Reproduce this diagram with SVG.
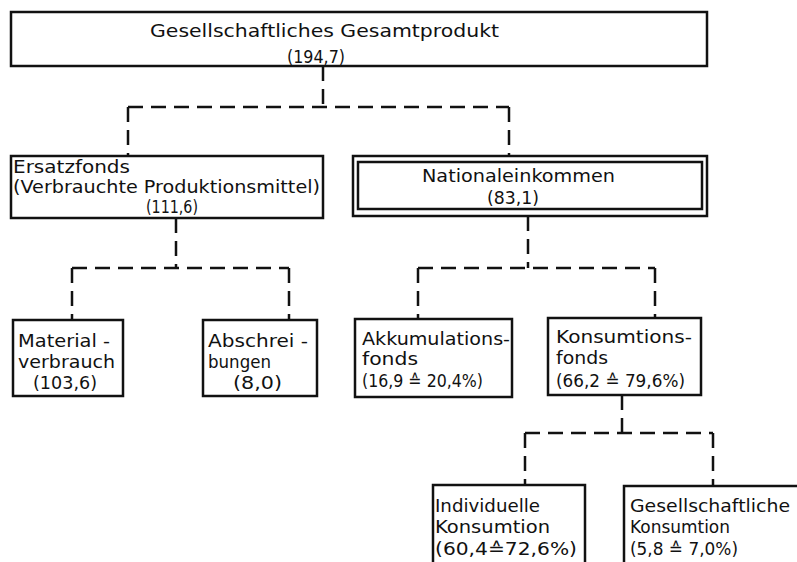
<svg xmlns="http://www.w3.org/2000/svg" width="797" height="562" viewBox="0 0 797 562">
<style>
.box{fill:#fff;stroke:#111;stroke-width:2.5}
.con{fill:none;stroke:#111;stroke-width:2.5;stroke-dasharray:15 8}
text{font-family:"DejaVu Sans","Liberation Sans",sans-serif;font-size:18px;fill:#111}
</style>
<rect width="797" height="562" fill="#fff"/>
<g id="connectors">
<path class="con" d="M323,66 V107"/>
<path class="con" d="M128,107 H509"/>
<path class="con" d="M128,107 V156"/>
<path class="con" d="M509,107 V156"/>
<path class="con" d="M176,218 V268"/>
<path class="con" d="M72,268 H289"/>
<path class="con" d="M72,268 V320"/>
<path class="con" d="M289,268 V320"/>
<path class="con" d="M528,216 V268"/>
<path class="con" d="M418,268 H655"/>
<path class="con" d="M418,268 V319"/>
<path class="con" d="M655,268 V318"/>
<path class="con" d="M622,395 V433"/>
<path class="con" d="M525,433 H713"/>
<path class="con" d="M525,433 V485"/>
<path class="con" d="M713,433 V486"/>
</g>
<g id="gesamtprodukt">
<rect class="box" x="11" y="12" width="696" height="54"/>
<text x="150" y="37" textLength="349" lengthAdjust="spacingAndGlyphs">Gesellschaftliches Gesamtprodukt</text>
<text x="287" y="63" textLength="58" lengthAdjust="spacingAndGlyphs">(194,7)</text>
</g>
<g id="ersatzfonds">
<rect class="box" x="11" y="156" width="312" height="62"/>
<text x="13" y="173" textLength="117" lengthAdjust="spacingAndGlyphs">Ersatzfonds</text>
<text x="13" y="193" textLength="307" lengthAdjust="spacingAndGlyphs">(Verbrauchte Produktionsmittel)</text>
<text x="146" y="213" textLength="52" lengthAdjust="spacingAndGlyphs">(111,6)</text>
</g>
<g id="nationaleinkommen">
<rect class="box" x="353" y="156" width="354" height="60"/>
<rect class="box" x="358" y="162" width="344" height="47" stroke-width="2"/>
<text x="422" y="182" textLength="193" lengthAdjust="spacingAndGlyphs">Nationaleinkommen</text>
<text x="487" y="204" textLength="52" lengthAdjust="spacingAndGlyphs">(83,1)</text>
</g>
<g id="materialverbrauch">
<rect class="box" x="13" y="320" width="110" height="76"/>
<text x="18" y="347" textLength="92" lengthAdjust="spacingAndGlyphs">Material -</text>
<text x="18" y="368" textLength="97" lengthAdjust="spacingAndGlyphs">verbrauch</text>
<text x="33" y="389" textLength="64" lengthAdjust="spacingAndGlyphs">(103,6)</text>
</g>
<g id="abschreibungen">
<rect class="box" x="203" y="320" width="114" height="76"/>
<text x="208" y="347" textLength="100" lengthAdjust="spacingAndGlyphs">Abschrei -</text>
<text x="208" y="368" textLength="63" lengthAdjust="spacingAndGlyphs">bungen</text>
<text x="233" y="389" textLength="49" lengthAdjust="spacingAndGlyphs">(8,0)</text>
</g>
<g id="akkumulationsfonds">
<rect class="box" x="355" y="319" width="157" height="78"/>
<text x="362" y="345" textLength="148" lengthAdjust="spacingAndGlyphs">Akkumulations-</text>
<text x="362" y="365" textLength="56" lengthAdjust="spacingAndGlyphs">fonds</text>
<text x="362" y="387" textLength="121" lengthAdjust="spacingAndGlyphs">(16,9 ≙ 20,4%)</text>
</g>
<g id="konsumtionsfonds">
<rect class="box" x="548" y="318" width="153" height="77"/>
<text x="556" y="343" textLength="136" lengthAdjust="spacingAndGlyphs">Konsumtions-</text>
<text x="556" y="364" textLength="52" lengthAdjust="spacingAndGlyphs">fonds</text>
<text x="556" y="387" textLength="129" lengthAdjust="spacingAndGlyphs">(66,2 ≙ 79,6%)</text>
</g>
<g id="individuelle-konsumtion">
<rect class="box" x="433" y="485" width="152" height="90"/>
<text x="435" y="512" textLength="105" lengthAdjust="spacingAndGlyphs">Individuelle</text>
<text x="435" y="533" textLength="115" lengthAdjust="spacingAndGlyphs">Konsumtion</text>
<text x="435" y="555" textLength="142" lengthAdjust="spacingAndGlyphs">(60,4≙72,6%)</text>
</g>
<g id="gesellschaftliche-konsumtion">
<rect class="box" x="624" y="486" width="180" height="90"/>
<text x="630" y="512" textLength="160" lengthAdjust="spacingAndGlyphs">Gesellschaftliche</text>
<text x="630" y="533" textLength="100" lengthAdjust="spacingAndGlyphs">Konsumtion</text>
<text x="630" y="555" textLength="108" lengthAdjust="spacingAndGlyphs">(5,8 ≙ 7,0%)</text>
</g>
</svg>
